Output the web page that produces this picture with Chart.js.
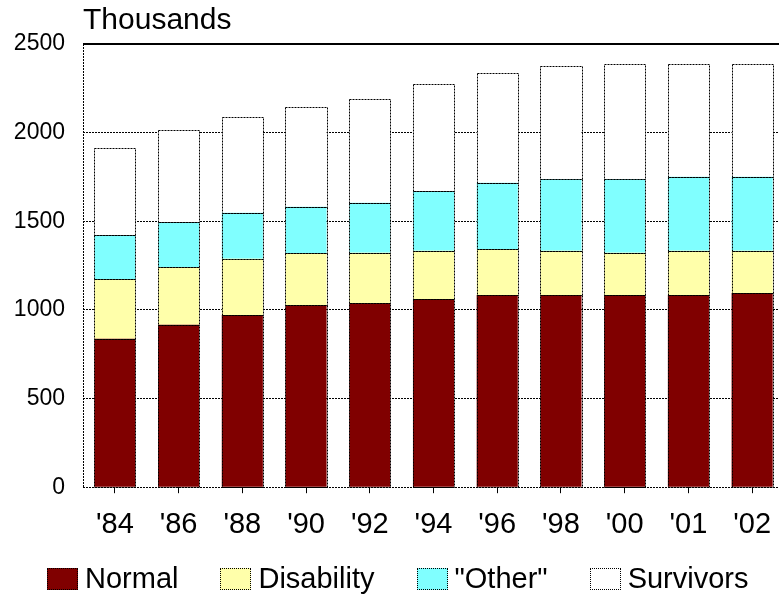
<!DOCTYPE html>
<html>
<head>
<meta charset="utf-8">
<script src="https://cdn.jsdelivr.net/npm/chart.js@4/dist/chart.umd.min.js"></script>
<style>
    html, body { margin: 0; padding: 0; background: #fff; overflow: hidden; }
    #wrap { width: 790px; height: 597px; position: relative; }
    #legend {
        position: absolute; left: 47px; top: 564px;
        display: flex; align-items: center; gap: 42px;
        font-family: 'Liberation Sans', Arial, sans-serif; font-size: 29px; line-height: 29px; color: #000;
    }
    #legend .item { display: flex; align-items: center; gap: 7px; white-space: nowrap; }
    #legend .box { width: 29px; height: 20px; border: 1px dotted #000; }
</style>
</head>
<body>
<div id="wrap"><canvas id="pension-chart"></canvas><div id="legend"></div></div>
<script>
const years = ["'84", "'86", "'88", "'90", "'92", "'94", "'96", "'98", "'00", "'01", "'02"];
const normal = [837, 916, 972, 1027, 1037, 1061, 1084, 1084, 1084, 1084, 1095];
const disability = [338, 326, 316, 294, 285, 273, 259, 250, 238, 250, 239];
const other = [247, 252, 260, 261, 282, 336, 374, 404, 416, 417, 417];
const survivors = [489, 519, 542, 564, 587, 603, 621, 636, 647, 634, 634];
const yTicks = [0, 500, 1000, 1500, 2000, 2500];

const font = 'Liberation Sans, Arial, sans-serif';

// dotted outlines for bars and the left axis, like the old spreadsheet look
const dottedEdges = {
    id: 'dottedEdges',
    afterDatasetsDraw(chart) {
        const { ctx, chartArea } = chart;
        ctx.save();
        ctx.strokeStyle = '#000';
        ctx.lineWidth = 1;
        ctx.setLineDash([2, 1]);
        chart.data.datasets.forEach((ds, i) => {
            chart.getDatasetMeta(i).data.forEach((bar) => {
                const { x, y, base, width } = bar.getProps(['x', 'y', 'base', 'width'], true);
                const l = Math.round(x - width / 2) + 0.5;
                const r = Math.round(x + width / 2) + 0.5;
                ctx.strokeRect(l, Math.round(y) + 0.5, r - l, Math.round(base) - Math.round(y));
            });
        });
        ctx.beginPath();
        ctx.moveTo(Math.round(chartArea.left) + 0.5, chartArea.top);
        ctx.lineTo(Math.round(chartArea.left) + 0.5, chartArea.bottom);
        ctx.stroke();
        ctx.restore();
    },
};

function ds(label, data, color) {
    return {
        label,
        data,
        backgroundColor: color,
        borderColor: '#000',
        borderWidth: 0,
        barPercentage: 0.645,
        categoryPercentage: 1,
    };
}

const chart = new Chart(document.getElementById('pension-chart'), {
    type: 'bar',
    data: {
        labels: years,
        datasets: [
            ds('Normal', normal, '#800000'),
            ds('Disability', disability, '#ffffaa'),
            ds('"Other"', other, '#80ffff'),
            ds('Survivors', survivors, '#ffffff'),
        ],
    },
    plugins: [dottedEdges],
    options: {
        responsive: true,
        maintainAspectRatio: false,
        animation: false,
        layout: { padding: { left: 0, right: 6, top: 0, bottom: 41 } },
        plugins: {
            title: {
                display: true,
                text: 'Thousands',
                align: 'start',
                fullSize: false,
                color: '#000',
                font: { family: font, size: 30, weight: 'normal' },
                padding: { top: 3, bottom: 5 },
            },
            legend: { display: false },
            tooltip: { enabled: false },
        },
        scales: {
            x: {
                stacked: true,
                offset: true,
                border: { display: false },
                grid: {
                    offset: false,
                    drawOnChartArea: false,
                    drawTicks: true,
                    tickLength: 6,
                    tickColor: '#000',
                },
                ticks: {
                    color: '#000',
                    padding: 14,
                    maxRotation: 0,
                    autoSkip: false,
                    font: { family: font, size: 29 },
                },
            },
            y: {
                stacked: true,
                min: 0,
                max: 2500,
                afterFit(scale) {
                    scale.width = 83;
                },
                afterBuildTicks(scale) {
                    scale.ticks = yTicks.map((v) => ({ value: v }));
                },
                border: {
                    display: false,
                    dash: (c) => (c.tick && c.tick.value === 2500 ? [] : [2, 1]),
                },
                grid: {
                    color: '#000',
                    lineWidth: (c) => (c.tick && c.tick.value === 2500 ? 2 : 1),
                    drawTicks: false,
                },
                ticks: {
                    color: '#000',
                    padding: 18,
                    font: { family: font, size: 23 },
                    callback: (v) => String(v),
                },
            },
        },
    },
});

// legend as plain html, built from the datasets
const legendEl = document.getElementById('legend');
chart.data.datasets.forEach((d) => {
    const item = document.createElement('span');
    item.className = 'item';
    const box = document.createElement('span');
    box.className = 'box';
    box.style.background = d.backgroundColor;
    item.appendChild(box);
    item.appendChild(document.createTextNode(d.label));
    legendEl.appendChild(item);
});
</script>
</body>
</html>
